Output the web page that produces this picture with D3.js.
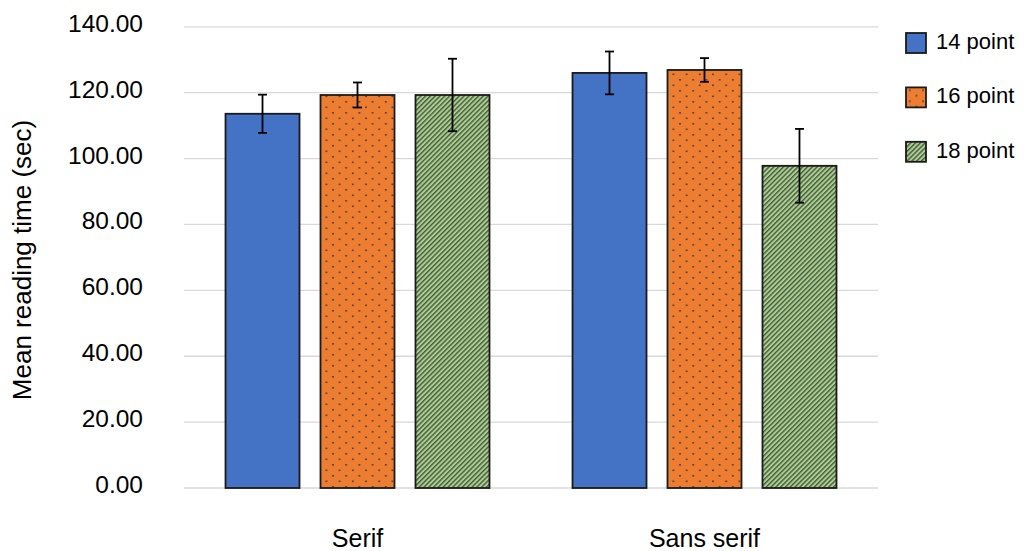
<!DOCTYPE html>
<html><head><meta charset="utf-8">
<script src="https://cdn.jsdelivr.net/npm/d3@7"></script>
<style>body{margin:0;background:#fff}svg{display:block}text{font-family:"Liberation Sans",Arial,sans-serif;fill:#000}</style>
</head><body><svg id="c" width="1024" height="551"></svg>
<script>
const categories = ["Serif", "Sans serif"];
const seriesNames = ["14 point", "16 point", "18 point"];
const means = [[113.6, 119.3, 119.3], [126.0, 126.9, 97.8]];
const errors = [[5.8, 3.8, 11.0], [6.5, 3.6, 11.2]];
const yTicks = [0, 20, 40, 60, 80, 100, 120, 140];

const svg = d3.select("#c");
const plot = {left: 184, right: 878, top: 26.8, bottom: 488};

const defs = svg.append("defs");
const dots = defs.append("pattern").attr("id","dots").attr("patternUnits","userSpaceOnUse")
  .attr("width",13.2).attr("height",11).attr("x",1).attr("y",0);
dots.append("rect").attr("width",13.2).attr("height",11).attr("fill","#ED7D31");
[[2,2],[8.6,7.5]].forEach(p=>dots.append("rect").attr("x",p[0]).attr("y",p[1]).attr("width",1.6).attr("height",1.6).attr("fill","#3c3c3c"));

const stripes = defs.append("pattern").attr("id","stripes").attr("patternUnits","userSpaceOnUse")
  .attr("width",3.4).attr("height",3.4).attr("patternTransform","rotate(45)");
stripes.append("rect").attr("width",3.4).attr("height",3.4).attr("fill","#A9D18E");
stripes.append("rect").attr("x",0).attr("y",0).attr("width",1.4).attr("height",3.4).attr("fill","#4a5642");

const fills = ["#4472C4","url(#dots)","url(#stripes)"];

const y = d3.scaleLinear().domain([0,140]).range([plot.bottom, plot.top]);
const x0 = d3.scaleBand().domain(categories).range([plot.left, plot.right]).paddingInner(0).paddingOuter(0);
const x1 = d3.scaleBand().domain(seriesNames).range([0, x0.bandwidth()]).paddingInner(0.221).paddingOuter(0.437);

// gridlines
svg.append("g").selectAll("line").data(yTicks).join("line")
  .attr("x1",plot.left).attr("x2",plot.right)
  .attr("y1",d=>y(d)).attr("y2",d=>y(d))
  .attr("stroke","#d9d9d9").attr("stroke-width",1.3);

// y tick labels
svg.append("g").selectAll("text").data(yTicks).join("text")
  .attr("x",143).attr("y",d=>y(d)+5).attr("text-anchor","end")
  .attr("font-size",24.5).text(d=>d.toFixed(2));

// bars
const groups = svg.append("g").selectAll("g").data(categories).join("g")
  .attr("transform",c=>`translate(${x0(c)},0)`);
groups.each(function(c,ci){
  const g = d3.select(this);
  seriesNames.forEach((s,si)=>{
    const v = means[ci][si], e = errors[ci][si];
    g.append("rect").attr("x",x1(s)).attr("y",y(v)).attr("width",x1.bandwidth()).attr("height",y(0)-y(v))
      .attr("fill",fills[si]).attr("stroke","#1a1a1a").attr("stroke-width",1.8);
    const cx = x1(s)+x1.bandwidth()/2;
    g.append("line").attr("x1",cx).attr("x2",cx).attr("y1",y(v+e)).attr("y2",y(v-e)).attr("stroke","#000").attr("stroke-width",1.8);
    [v+e, v-e].forEach(t=>g.append("line").attr("x1",cx-4.5).attr("x2",cx+4.5).attr("y1",y(t)).attr("y2",y(t)).attr("stroke","#000").attr("stroke-width",1.8));
  });
});

// category labels
svg.append("g").selectAll("text").data(categories).join("text")
  .attr("x",c=>x0(c)+x0.bandwidth()/2).attr("y",547).attr("text-anchor","middle")
  .attr("font-size",25).text(c=>c);

// y axis title
svg.append("text").attr("transform","translate(31,260) rotate(-90)").attr("text-anchor","middle")
  .attr("font-size",26).text("Mean reading time (sec)");

// legend
const leg = svg.append("g").selectAll("g").data(seriesNames).join("g")
  .attr("transform",(d,i)=>`translate(906,${33+i*54.4})`);
leg.append("rect").attr("width",20).attr("height",20).attr("fill",(d,i)=>fills[i]).attr("stroke","#1a1a1a").attr("stroke-width",1.8);
leg.append("text").attr("x",30).attr("y",16).attr("font-size",22).text(d=>d);
</script></body></html>
